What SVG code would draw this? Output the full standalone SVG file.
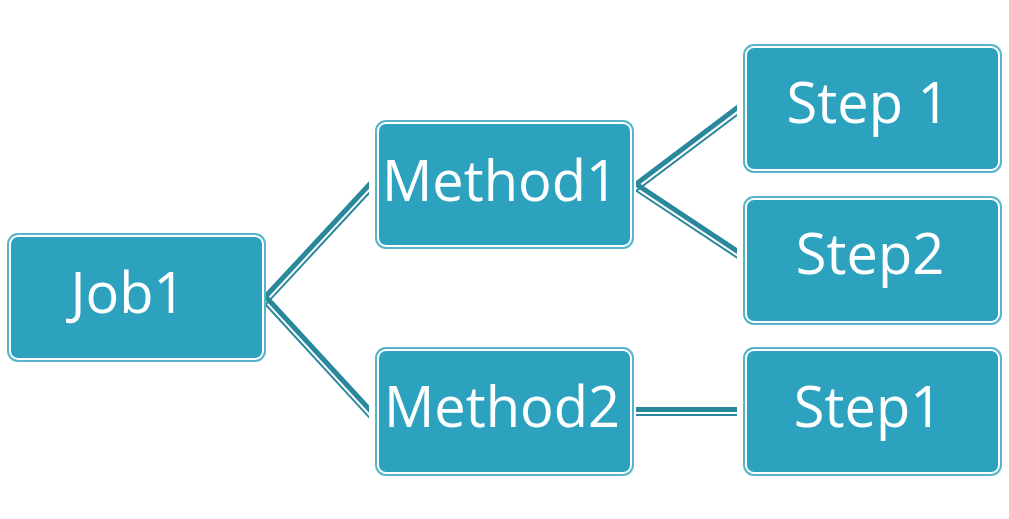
<svg xmlns="http://www.w3.org/2000/svg" width="1009" height="519" viewBox="0 0 1009 519">
<style>
.box{fill:#2DA2BF;stroke:#55B5CD;stroke-width:2}
.ring{fill:none;stroke:#ffffff;stroke-width:2}
.lbl{font-family:"Open Sans","DejaVu Sans",sans-serif;font-size:56px;fill:#ffffff;text-anchor:middle}
.thick{stroke:#2A889D;stroke-width:5;fill:none}
.thin{stroke:#2A889D;stroke-width:2;fill:none}
</style>
<defs>
<clipPath id="c1"><rect x="266" y="150" width="103" height="300"/></clipPath>
<clipPath id="c2"><rect x="636" y="80" width="101" height="360"/></clipPath>
</defs>
<rect width="1009" height="519" fill="#ffffff"/>
<g id="connectors">
<g clip-path="url(#c1)">
<line class="thick" x1="255" y1="307.9" x2="380" y2="173.1"/>
<line class="thin" x1="255" y1="316" x2="380" y2="181.2"/>
<line class="thick" x1="255" y1="285" x2="380" y2="421"/>
<line class="thin" x1="255" y1="293.1" x2="380" y2="429.1"/>
</g>
<g clip-path="url(#c2)">
<line class="thick" x1="625" y1="192.3" x2="750" y2="98.2"/>
<line class="thin" x1="625" y1="199.2" x2="750" y2="105.1"/>
<line class="thick" x1="625" y1="176.7" x2="750" y2="259.6"/>
<line class="thin" x1="625" y1="183.3" x2="750" y2="266.2"/>
<line class="thick" x1="630" y1="409.5" x2="750" y2="409.5"/>
<line class="thin" x1="630" y1="415" x2="750" y2="415"/>
</g>
</g>
<g id="job1">
<rect class="box" x="8" y="234" width="257" height="127" rx="10"/>
<rect class="ring" x="10" y="236" width="253" height="123" rx="8"/>
<text class="lbl" x="128" y="313">Job1</text>
</g>
<g id="method1">
<rect class="box" x="376" y="121" width="257" height="127" rx="10"/>
<rect class="ring" x="378" y="123" width="253" height="123" rx="8"/>
<text class="lbl" x="500" y="201">Method1</text>
</g>
<g id="method2">
<rect class="box" x="376" y="348" width="257" height="127" rx="10"/>
<rect class="ring" x="378" y="350" width="253" height="123" rx="8"/>
<text class="lbl" x="502" y="427">Method2</text>
</g>
<g id="step1a">
<rect class="box" x="744" y="45" width="257" height="127" rx="10"/>
<rect class="ring" x="746" y="47" width="253" height="123" rx="8"/>
<text class="lbl" x="868" y="123">Step 1</text>
</g>
<g id="step2">
<rect class="box" x="744" y="197" width="257" height="127" rx="10"/>
<rect class="ring" x="746" y="199" width="253" height="123" rx="8"/>
<text class="lbl" x="870" y="274">Step2</text>
</g>
<g id="step1b">
<rect class="box" x="744" y="348" width="257" height="127" rx="10"/>
<rect class="ring" x="746" y="350" width="253" height="123" rx="8"/>
<text class="lbl" x="868" y="427">Step1</text>
</g>
</svg>
